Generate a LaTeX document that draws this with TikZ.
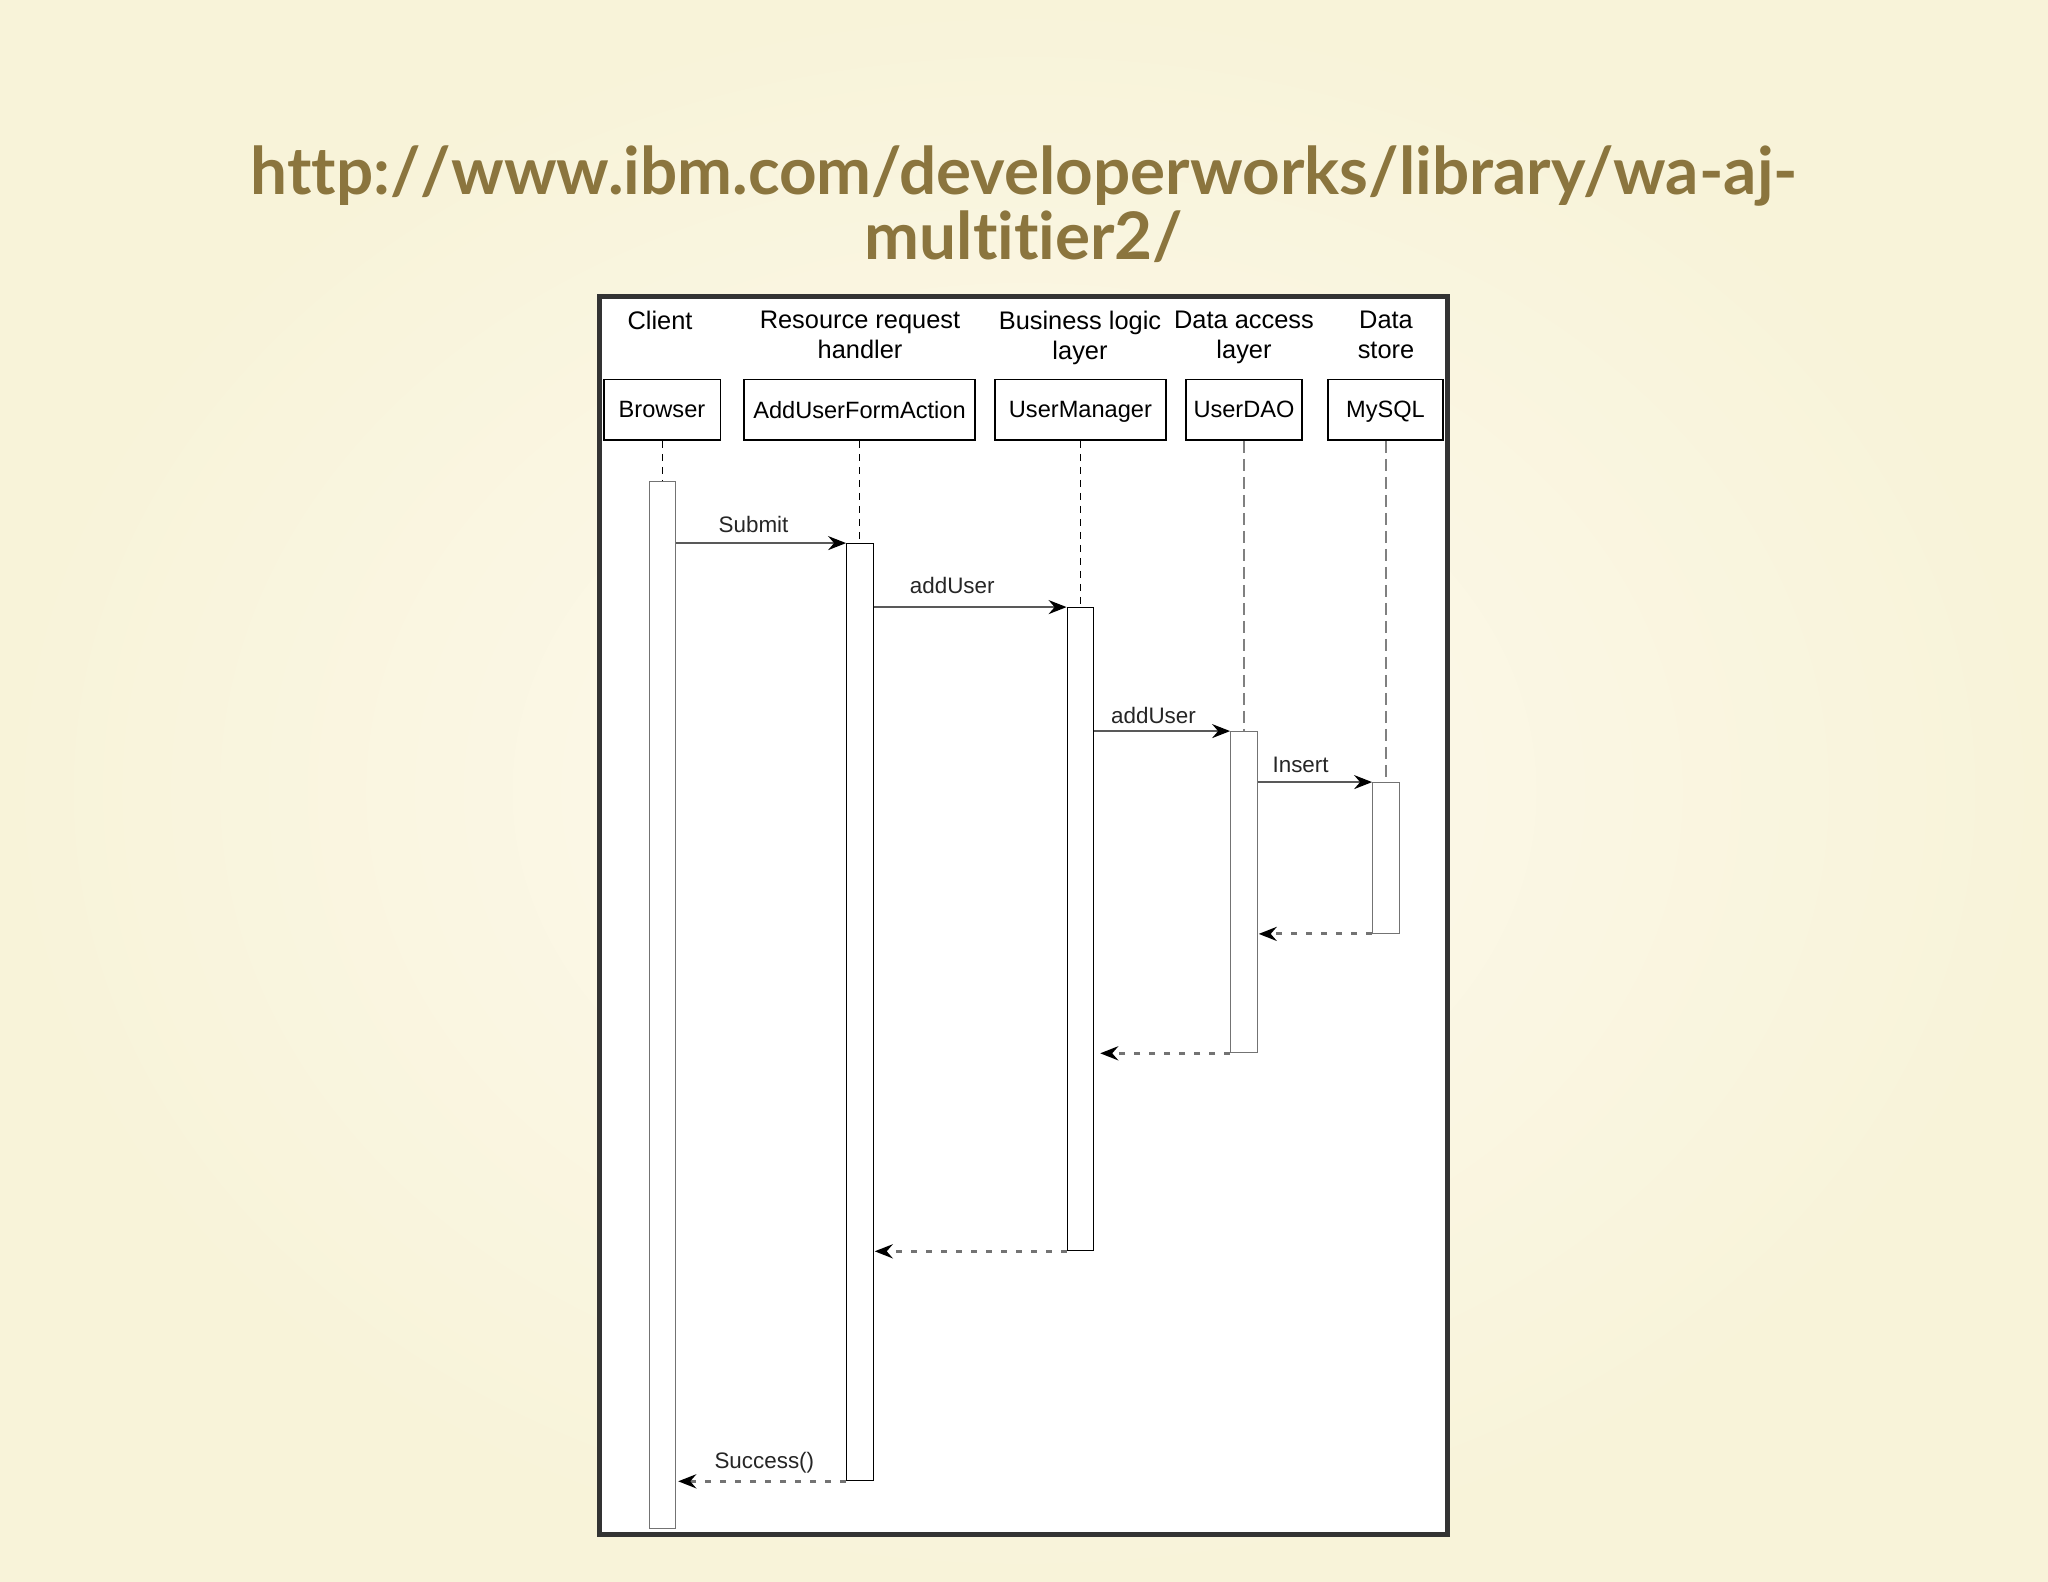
\documentclass[tikz,border=0pt]{standalone}
\usepackage{fontspec}
\setmainfont{Liberation Sans}
\newfontfamily\latofont{Lato}[Ligatures={NoCommon,NoRequired,NoContextual}]
\usepackage{tikz}
\usetikzlibrary{arrows.meta,calc}
\definecolor{bgin}{RGB}{253,250,238}
\definecolor{bgout}{RGB}{248,243,217}
\definecolor{urlcol}{RGB}{139,117,62}
\tikzstyle{obj} = [draw=black,line width=0.7pt,fill=white,inner sep=0pt,font=\fontsize{11.8}{14}\selectfont,text depth=0pt,minimum height=30.4pt]
\tikzstyle{act} = [draw=black,line width=0.6pt,fill=white,inner sep=0pt,minimum width=13.2pt]
\tikzstyle{msg} = [draw=black!65,line width=1pt,-{Stealth[length=9pt,width=7pt,inset=3pt,black]}]
\tikzstyle{ret} = [draw=black!55,line width=1.5pt,dash pattern=on 3pt off 4.5pt,-{Stealth[length=9pt,width=7pt,inset=3pt,black]}]
\tikzstyle{life} = [draw=black,line width=0.5pt,dash pattern=on 3.5pt off 3pt]
\tikzstyle{lifeg} = [draw=black!50,line width=1pt,dash pattern=on 6pt off 3pt]
\tikzstyle{lbl} = [inner sep=0pt,anchor=base,font=\fontsize{11.2}{12}\selectfont,text=black!85]
\tikzstyle{head} = [inner sep=0pt,anchor=north,align=center,font=\fontsize{12.7}{15}\selectfont]
\begin{document}
\begin{tikzpicture}[x=0.5pt,y=-0.5pt]
      % background and page size
      \shade[inner color=bgin,outer color=bgout](0,0)rectangle(2048,1582);
      \useasboundingbox(0,0)rectangle(2048,1582);
      % title
      \node[anchor=base,inner sep=0pt,text=urlcol,font=\latofont\bfseries\fontsize{32.8}{33}\selectfont](url1)at(1024,195){http:/\kern0pt/www.ibm.com/developerworks/library/wa-aj-};
      \node[anchor=base,inner sep=0pt,text=urlcol,font=\latofont\bfseries\fontsize{32.8}{33}\selectfont](url2)at(1024,260){multitier2/};
      % frame
      \draw[line width=2.5pt,draw=black!80,fill=white](599,297)rectangle(1447,1534);
      % column headings
      \node[head](hClient)at(660,311){Client};
      \node[head](hRes)at(860,311){Resource request\\handler};
      \node[head](hBiz)at(1080,311){Business logic\\layer};
      \node[head](hDao)at(1244,311){Data access\\layer};
      \node[head](hStore)at(1386,311){Data\\store};
      % objects
      \node[obj,minimum width=58.2pt](browser)at(662,409.7){Browser};
      \node[obj,minimum width=115.5pt](afa)at(859.5,409.7){AddUserFormAction};
      \node[obj,minimum width=85.6pt](umgr)at(1080.4,409.7){UserManager};
      \node[obj,minimum width=58pt](udao)at(1244,409.7){UserDAO};
      \node[obj,minimum width=57.5pt](mysql)at(1385.5,409.7){MySQL};
      % activations
      \node[act,draw=black!55,minimum height=523.5pt](actB)at(662.4,1005.2){};
      \node[act,minimum height=468.5pt](actR)at(859.9,1012.2){};
      \node[act,minimum height=321.5pt](actU)at(1080.4,929.2){};
      \node[act,draw=black!55,minimum height=160.5pt](actD)at(1243.9,892.2){};
      \node[act,draw=black!55,minimum height=75.3pt](actM)at(1385.9,858){};
      % lifelines
      \draw[life](actB|-browser.south)--(actB.north);
      \draw[life](actR|-afa.south)--(actR.north);
      \draw[life](actU|-umgr.south)--(actU.north);
      \draw[lifeg](actD|-udao.south)--(actD.north);
      \draw[lifeg](actM|-mysql.south)--(actM.north);
      % calls
      \draw[msg](actB.east|-actR.north)--(actR.north west)node[lbl,pos=.455,yshift=5.5pt]{Submit};
      \draw[msg](actR.east|-actU.north)--(actU.north west)node[lbl,pos=.407,yshift=7pt]{addUser};
      \draw[msg](actU.east|-actD.north)--(actD.north west)node[lbl,pos=.436,yshift=4pt]{addUser};
      \draw[msg](actD.east|-actM.north)--(actM.north west)node[lbl,pos=.375,yshift=5pt]{Insert};
      % returns
      \draw[ret](actM.south west)--($(actD.east|-actM.south)+(1,0)$);
      \draw[ret](actD.south west)--($(actU.east|-actD.south)+(6,0)$);
      \draw[ret](actU.south west)--($(actR.east|-actU.south)+(1,0)$);
      \draw[ret](actR.south west)--($(actB.east|-actR.south)+(2,0)$)node[lbl,pos=.487,yshift=6.5pt]{Success()};
    \end{tikzpicture}
\end{document}
